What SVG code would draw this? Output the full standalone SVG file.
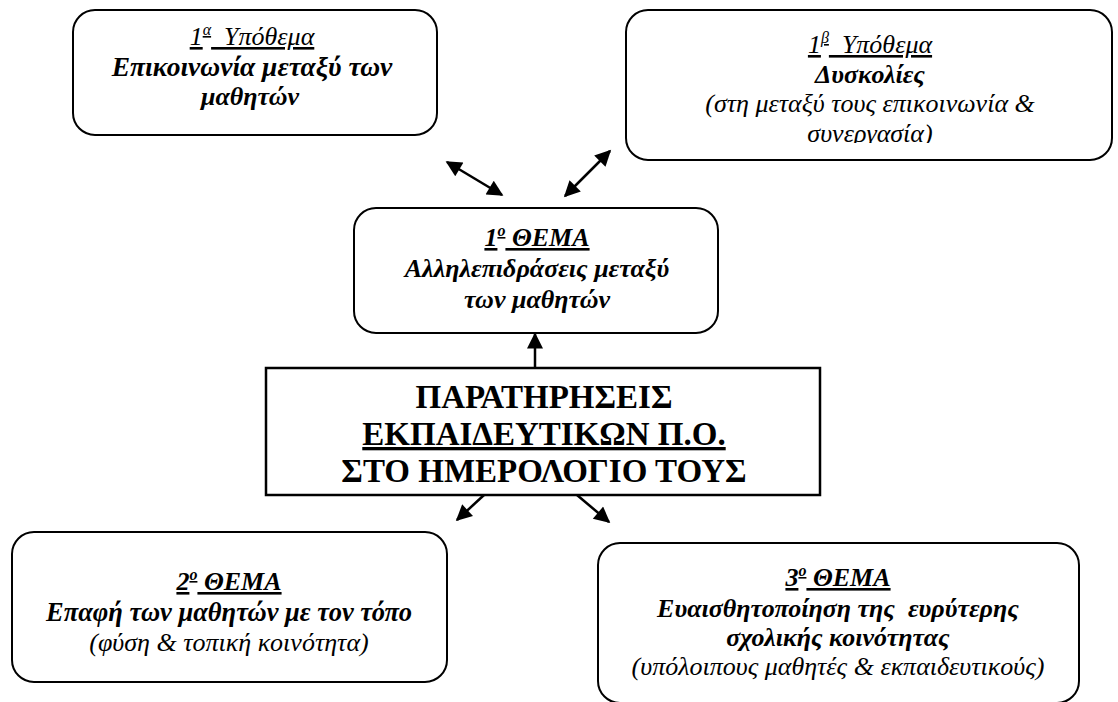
<svg xmlns="http://www.w3.org/2000/svg" width="1118" height="702" viewBox="0 0 1118 702">
  <style>
    .box { fill: #fff; stroke: #000; stroke-width: 2; }
    .main { fill: #fff; stroke: #000; stroke-width: 2.5; }
    .lbl { font-family: "Liberation Serif", "Times New Roman", serif; fill: #000; text-anchor: middle; white-space: pre; }
    .h { font-size: 26px; font-style: italic; text-decoration: underline; }
    .hb { font-size: 26px; font-style: italic; font-weight: bold; text-decoration: underline; }
    .bi { font-size: 26px; font-style: italic; font-weight: bold; }
    .i { font-size: 26px; font-style: italic; }
    .big { font-size: 33px; font-weight: bold; }
    .sup { font-size: 16px; }
    .conn { stroke: #000; stroke-width: 2.5; fill: none; }
  </style>
  <defs>
    <marker id="head" viewBox="0 0 10 10" refX="9" refY="5" markerWidth="18" markerHeight="16" markerUnits="userSpaceOnUse" orient="auto-start-reverse">
      <path d="M0,0 L10,5 L0,10 z" fill="#000"/>
    </marker>
    <clipPath id="clip1b">
      <rect x="626" y="10" width="486" height="133"/>
    </clipPath>
  </defs>

  <!-- connectors -->
  <g id="connectors">
    <line class="conn" x1="447" y1="162" x2="502" y2="195" marker-start="url(#head)" marker-end="url(#head)"/>
    <line class="conn" x1="610" y1="151" x2="565" y2="196" marker-start="url(#head)" marker-end="url(#head)"/>
    <line class="conn" x1="535" y1="368" x2="535" y2="334" marker-end="url(#head)"/>
    <line class="conn" x1="484" y1="495" x2="457" y2="520" marker-end="url(#head)"/>
    <line class="conn" x1="577" y1="495" x2="609" y2="522" marker-end="url(#head)"/>
  </g>

  <!-- sub-topic 1a -->
  <g id="sub1a">
    <rect class="box" x="73" y="10" width="364" height="125" rx="22"/>
    <text class="lbl h" x="252" y="45">1<tspan class="sup" dy="-10">α</tspan><tspan dy="10">  Υπόθεμα</tspan></text>
    <text class="lbl bi" x="252" y="76" style="font-size:27.5px">Επικοινωνία μεταξύ των</text>
    <text class="lbl bi" x="250" y="105">μαθητών</text>
  </g>

  <!-- sub-topic 1b -->
  <g id="sub1b">
    <rect class="box" x="626" y="10" width="486" height="150" rx="22"/>
    <g clip-path="url(#clip1b)">
      <text class="lbl h" x="870" y="53">1<tspan class="sup" dy="-10">β</tspan><tspan dy="10">  Υπόθεμα</tspan></text>
      <text class="lbl bi" x="870" y="83">Δυσκολίες</text>
      <text class="lbl i" x="870" y="112">(στη μεταξύ τους επικοινωνία &amp;</text>
      <text class="lbl i" x="870" y="142">συνεργασία)</text>
    </g>
  </g>

  <!-- topic 1 -->
  <g id="topic1">
    <rect class="box" x="354" y="208" width="364" height="125" rx="22"/>
    <text class="lbl hb" x="537" y="246">1<tspan class="sup" dy="-10">ο</tspan><tspan dy="10"> ΘΕΜΑ</tspan></text>
    <text class="lbl bi" x="537" y="277">Αλληλεπιδράσεις μεταξύ</text>
    <text class="lbl bi" x="537" y="308">των μαθητών</text>
  </g>

  <!-- central node -->
  <g id="observations">
    <rect class="main" x="266" y="368" width="554" height="127"/>
    <text class="lbl big" x="544" y="408">ΠΑΡΑΤΗΡΗΣΕΙΣ</text>
    <text class="lbl big" x="544" y="445" text-decoration="underline">ΕΚΠΑΙΔΕΥΤΙΚΩΝ Π.Ο.</text>
    <text class="lbl big" x="544" y="482">ΣΤΟ ΗΜΕΡΟΛΟΓΙΟ ΤΟΥΣ</text>
  </g>

  <!-- topic 2 -->
  <g id="topic2">
    <rect class="box" x="12" y="532" width="435" height="150" rx="22"/>
    <text class="lbl hb" x="229" y="590">2<tspan class="sup" dy="-10">ο</tspan><tspan dy="10"> ΘΕΜΑ</tspan></text>
    <text class="lbl bi" x="229" y="621" style="font-size:26.5px">Επαφή των μαθητών με τον τόπο</text>
    <text class="lbl i" x="229" y="651">(φύση &amp; τοπική κοινότητα)</text>
  </g>

  <!-- topic 3 -->
  <g id="topic3">
    <rect class="box" x="598" y="543" width="481" height="160" rx="22"/>
    <text class="lbl hb" x="838" y="586">3<tspan class="sup" dy="-10">ο</tspan><tspan dy="10"> ΘΕΜΑ</tspan></text>
    <text class="lbl bi" x="838" y="617">Ευαισθητοποίηση της  ευρύτερης</text>
    <text class="lbl bi" x="838" y="646">σχολικής κοινότητας</text>
    <text class="lbl i" x="838" y="675">(υπόλοιπους μαθητές &amp; εκπαιδευτικούς)</text>
  </g>
</svg>
